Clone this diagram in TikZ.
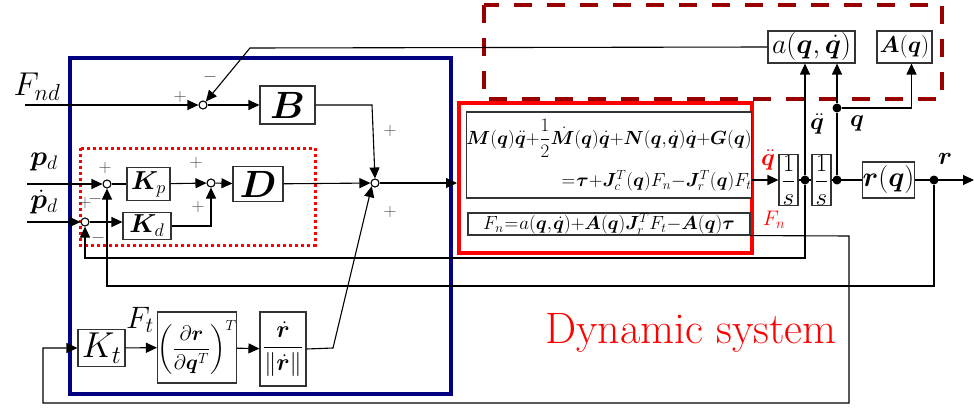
\RequirePackage{fix-cm}
\documentclass[tikz,border=0pt]{standalone}
\usepackage{amsmath}
\usepackage{bm}
\usetikzlibrary{arrows.meta, positioning, calc}
\definecolor{ctrlblue}{RGB}{0,0,128}
\definecolor{envred}{RGB}{153,0,0}
\definecolor{dynred}{RGB}{255,0,0}
\newcommand{\fsz}[1]{\fontsize{#1}{#1}\selectfont}
\newcommand{\tight}{\medmuskip=0mu\thickmuskip=1mu\thinmuskip=1mu}

\begin{document}
\begin{tikzpicture}[
    x=1pt, y=-1pt,
    block/.style={draw=black!80, line width=1.1pt, fill=white, inner sep=1pt, align=center},
    sumj/.style={draw, circle, line width=1.1pt, minimum size=8pt, inner sep=0pt, fill=white},
    tap/.style={circle, fill=black, minimum size=9pt, inner sep=0pt},
    arrow/.style={-{Triangle[length=11pt,width=10pt]}, line width=1.1pt},
    wire/.style={line width=1.1pt},
    sgn/.style={font=\fsz{18}, text=black!70, inner sep=0pt},
    lbl/.style={inner sep=0pt}
]
    \useasboundingbox (0,0) rectangle (974,409);

    % Frames
    \draw[ctrlblue, line width=4pt] (70,58) rectangle (451,394);
    \draw[dynred, line width=3pt, dash pattern=on 3pt off 3pt] (80,148) rectangle (315,245);
    \draw[envred, line width=4pt, dash pattern=on 18pt off 15pt] (484,5) rectangle (942,99);
    \node[draw=dynred, line width=4pt, minimum width=293pt, minimum height=150pt] (dyn) at (605.5,178) {};

    % Controller
    \node[sumj] (s1) at (203,105) {};
    \node[block, minimum width=55pt, minimum height=38pt, font=\fsz{38}] (B) at (287.5,105) {$\bm B$};
    \node[sumj] (s2) at (107,184) {};
    \node[block, minimum width=43pt, minimum height=33pt, font=\fsz{26}] (Kp) at (148.5,184) {$\bm K_p$};
    \node[sumj] (s4) at (85,222) {};
    \node[block, minimum width=48pt, minimum height=27pt, font=\fsz{26}] (Kd) at (147,226) {$\bm K_d$};
    \node[sumj] (s5) at (211,183) {};
    \node[block, minimum width=50pt, minimum height=35pt, font=\fsz{38}] (D) at (258,184) {$\bm D$};
    \node[sumj] (s3) at (375,183) {};
    \node[block, minimum width=47pt, minimum height=37pt, font=\fsz{36}] (Kt) at (101.5,348) {$K_t$};
    \node[block, minimum width=74pt, minimum height=71pt, font=\fsz{21}, inner sep=0pt] (dRdq) at (197,347.5) {$\left(\dfrac{\partial\bm r}{\partial\bm q^T}\right)^{T}$};
    \node[block, minimum width=46pt, minimum height=74pt, font=\fsz{24}, inner sep=0pt] (rdn) at (283,349) {$\dfrac{\dot{\bm r}}{\|\dot{\bm r}\|}$};

    % Dynamic system
    \node[block, minimum width=282pt, minimum height=86pt, align=right, font=\fsz{19}\tight, inner sep=0pt] (eq1) at (609,155)
        {$\bm M(\bm q)\ddot{\bm q}+\dfrac{1}{2}\dot{\bm M}(\bm q)\dot{\bm q}+\bm N(\bm q,\dot{\bm q})\dot{\bm q}+\bm G(\bm q)$\\[12pt]
         $={\bm\tau}+\bm J_c^T(\bm q)F_n-\bm J_r^T(\bm q)F_t$};
    \node[block, minimum width=282pt, minimum height=22pt, font=\fsz{19}\tight, inner sep=0pt] (eq2) at (609,224)
        {$F_n=a(\bm q,\dot{\bm q})+\bm A(\bm q)\bm J_r^TF_t-\bm A(\bm q)\bm\tau$};
    \node[block, minimum width=19pt, minimum height=41pt, font=\fsz{25}, inner sep=0pt] (int1) at (788.5,180) {$\dfrac{1}{s}$};
    \node[block, minimum width=19pt, minimum height=41pt, font=\fsz{25}, inner sep=0pt] (int2) at (821.5,180) {$\dfrac{1}{s}$};
    \node[block, minimum width=49pt, minimum height=36pt, font=\fsz{28}, inner sep=0pt] (rq) at (888.5,180) {$\bm r(\bm q)$};
    \node[tap] (dqd) at (805,180) {};
    \node[tap] (dq) at (837,180) {};
    \node[tap] (dq2) at (837,108) {};
    \node[tap] (dr) at (934,180) {};

    % Environment
    \node[block, minimum width=87pt, minimum height=32pt, font=\fsz{28}, inner sep=0pt] (aq) at (811.5,47) {$a(\bm q,\dot{\bm q})$};
    \node[block, minimum width=55pt, minimum height=32pt, font=\fsz{23}, inner sep=0pt] (Aq) at (904.5,47) {$\bm A(\bm q)$};

    % Free ends and corners
    \coordinate (fnd) at (25,105);
    \coordinate (pd) at (27,184);
    \coordinate (pdd) at (27,222);
    \coordinate (afb) at (250,48);
    \coordinate (bk) at (372,105);
    \coordinate (rk) at (333,348);
    \coordinate (vfb) at (805,258);
    \coordinate (pfb) at (934,286);
    \coordinate (fn1) at (849,236);
    \coordinate (fn2) at (849,403);
    \coordinate (fn3) at (43,403);
    \coordinate (rout) at (974,180);

    % Connections
    \draw[arrow] (fnd) -- (s1);
    \draw[arrow] (aq.west) -- (afb) -- (s1);
    \draw[arrow] (s1) -- (B);
    \draw[arrow] (B.east) -- (bk) -- (s3.north);
    \draw[arrow] (pd) -- (s2);
    \draw[wire] (s2) -- (Kp);
    \draw[arrow] (Kp) -- (s5);
    \draw[arrow] (pdd) -- (s4);
    \draw[arrow] (s4) -- (s4 -| Kd.west);
    \draw[arrow] (Kd.east) -| (s5.south);
    \draw[arrow] (s5) -- (D);
    \draw[arrow] (D) -- (s3);
    \draw[arrow] (s3.east) -- (s3.east -| dyn.west);
    \draw[arrow] (Kt) -- (dRdq);
    \draw[arrow] (dRdq) -- (rdn);
    \draw[arrow] (rdn.east) -- (rk) -- (s3.south west);
    \draw[arrow] (eq1.east |- int1.west) -- (int1.west);
    \draw[wire] (int1) -- (int2);
    \draw[wire] (int2) -- (rq);
    \draw[arrow] (rq) -- (rout);
    \draw[arrow] (dqd) -- (dqd |- aq.south);
    \draw[wire] (dq) -- (dq2);
    \draw[arrow] (dq2) -- (dq2 |- aq.south);
    \draw[arrow] (dq2) -| ([xshift=7pt]Aq.south);
    \draw[arrow] (dqd) -- (vfb) -| (s4.south);
    \draw[arrow] (dr) -- (pfb) -| (s2.south);
    \draw[arrow] (eq2.south east) -- (fn1) -- (fn2) -- (fn3) |- (Kt.west);

    % Signals
    \node[lbl, font=\fsz{33}] (lfnd) at (37,87) {$F_{nd}$};
    \node[lbl, font=\fsz{28}] (lpd) at (44,162) {$\bm p_d$};
    \node[lbl, font=\fsz{28}] (lpdd) at (44,202) {$\dot{\bm p}_d$};
    \node[lbl, font=\fsz{31}] (lft) at (140,320) {$F_t$};
    \node[lbl, font=\fsz{24}] (lqdd) at (817,124) {$\ddot{\bm q}$};
    \node[lbl, font=\fsz{24}] (lq) at (857,124) {$\bm q$};
    \node[lbl, font=\fsz{24}, text=dynred] (lacc) at (768,160) {$\ddot{\bm q}$};
    \node[lbl, font=\fsz{21}, text=dynred] (lfn) at (774,220) {$F_n$};
    \node[lbl, font=\fsz{25}] (lr) at (945,159) {$\bm r$};
    \node[lbl, font=\fsz{44}, text=dynred] (ldyn) at (691,333) {Dynamic system};

    % Signs
    \node[sgn] at (180,97) {$+$};
    \node[sgn] at (210,77) {$-$};
    \node[sgn] at (105,168) {$+$};
    \node[sgn] at (95,199) {$-$};
    \node[sgn] at (85,203) {$+$};
    \node[sgn] at (98,238) {$-$};
    \node[sgn] at (196,163) {$+$};
    \node[sgn] at (198,207) {$+$};
    \node[sgn] at (390,131) {$+$};
    \node[sgn] at (390,212) {$+$};
\end{tikzpicture}
\end{document}
